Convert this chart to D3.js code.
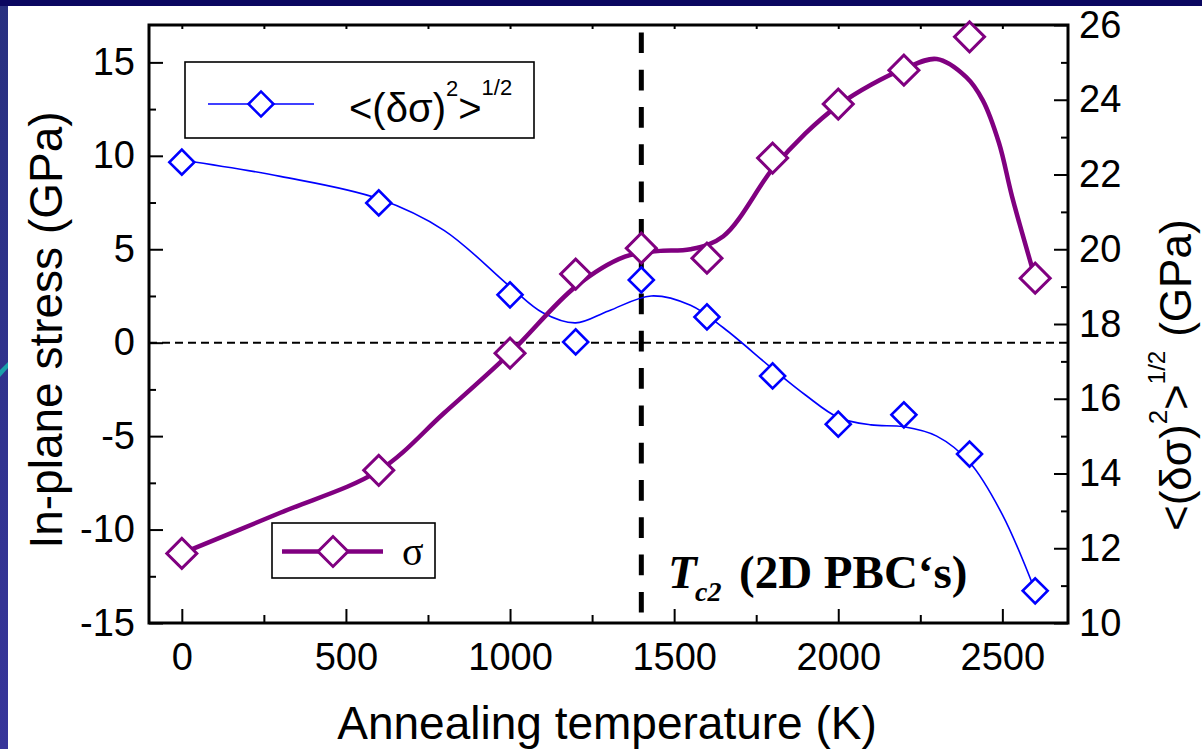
<!DOCTYPE html>
<html>
<head>
<meta charset="utf-8">
<script src="https://cdn.jsdelivr.net/npm/d3@7"></script>
<style>
  html, body { margin: 0; padding: 0; background: #fff; }
  svg { display: block; }
</style>
</head>
<body>
<svg id="chart" width="1202" height="749"></svg>
<script>
// ---------- data ----------
const temps = [0, 600, 1000, 1200, 1400, 1600, 1800, 2000, 2200, 2400, 2600];
const sigmaValues = [-11.28, -6.83, -0.56, 3.67, 5.06, 4.52, 9.88, 12.77, 14.58, 16.37, 3.45];
const rmsValues = [22.33, 21.24, 18.78, 17.52, 19.18, 18.19, 16.61, 15.32, 15.57, 14.52, 10.86];

// smoothed fit curves
const sigmaFitT = [0, 300, 600, 800, 1000, 1200, 1350, 1450, 1550, 1650, 1800, 1900, 2000, 2100, 2200, 2300, 2390, 2440, 2490, 2530, 2600];
const sigmaFitV = [-11.27, -9.1, -6.85, -3.75, -0.56, 3.0, 4.6, 4.9, 5.0, 5.7, 9.3, 11.2, 12.7, 13.8, 14.65, 15.18, 14.21, 12.98, 10.67, 7.79, 3.45];
const rmsFitT = [0, 300, 600, 800, 1000, 1100, 1200, 1300, 1430, 1550, 1650, 1800, 1900, 2000, 2100, 2200, 2300, 2400, 2500, 2600];
const rmsFitV = [22.39, 21.95, 21.35, 20.5, 19.0, 18.3, 18.03, 18.35, 18.75, 18.5, 17.9, 16.8, 16.1, 15.5, 15.3, 15.25, 15.0, 14.3, 12.9, 10.86];

const xMajor = [0, 500, 1000, 1500, 2000, 2500];
const xMinor = [250, 750, 1250, 1750, 2250];
const yLeftMajor = [-15, -10, -5, 0, 5, 10, 15];
const yLeftMinor = [-12.5, -7.5, -2.5, 2.5, 7.5, 12.5];
const yRightMajor = [10, 12, 14, 16, 18, 20, 22, 24, 26];
const yRightMinor = [11, 13, 15, 17, 19, 21, 23, 25];
const tcTemp = 1400;

// ---------- layout ----------
const svg = d3.select("#chart");
const L = 149, R = 1068, T = 25, B = 623;
const x = d3.scaleLinear().domain([-100, 2700]).range([L, R]);
const yL = d3.scaleLinear().domain([-15, 17]).range([B, T]);
const yR = d3.scaleLinear().domain([10, 26]).range([B, T]);

const SANS = "'Liberation Sans', Arial, sans-serif";
const SERIF = "'Liberation Serif', 'Times New Roman', serif";
const BLUE = "#0000ff", PURPLE = "#800080";

// slide background decorations
svg.append("rect").attr("width", 1202).attr("height", 749).attr("fill", "#fff");
const grad = svg.append("defs").append("linearGradient").attr("id", "lb")
  .attr("x1", 0).attr("y1", 0).attr("x2", 0).attr("y2", 1);
grad.append("stop").attr("offset", "0%").attr("stop-color", "#283080");
grad.append("stop").attr("offset", "100%").attr("stop-color", "#37359a");
svg.append("rect").attr("x", 0).attr("y", 0).attr("width", 8).attr("height", 749).attr("fill", "url(#lb)");
svg.append("polygon").attr("points", "0,370 8,362 8,368 0,377").attr("fill", "#1aa0aa");
svg.append("rect").attr("x", 0).attr("y", 0).attr("width", 1202).attr("height", 6).attr("fill", "#0b0760");

// ---------- axes ----------
function styleAxis(g) {
  g.select(".domain").remove();
  g.selectAll(".tick line").attr("stroke", "#000").attr("stroke-width", 2);
  g.selectAll("text").attr("font-family", SANS).attr("font-size", 38).attr("fill", "#000");
}
const fmt = d => String(d);

svg.append("g").attr("transform", `translate(0,${B})`)
  .call(d3.axisBottom(x).tickValues(xMajor).tickSize(-14).tickPadding(20).tickFormat(fmt)).call(styleAxis);
svg.append("g").attr("transform", `translate(0,${B})`)
  .call(d3.axisBottom(x).tickValues(xMinor).tickSize(-8).tickFormat("")).call(styleAxis);
svg.append("g").attr("transform", `translate(0,${T})`)
  .call(d3.axisTop(x).tickValues(xMajor.concat(xMinor)).tickSize(-4).tickFormat("")).call(styleAxis);

svg.append("g").attr("transform", `translate(${L},0)`)
  .call(d3.axisLeft(yL).tickValues(yLeftMajor).tickSize(-14).tickPadding(14).tickFormat(fmt)).call(styleAxis);
svg.append("g").attr("transform", `translate(${L},0)`)
  .call(d3.axisLeft(yL).tickValues(yLeftMinor).tickSize(-7).tickFormat("")).call(styleAxis);

svg.append("g").attr("transform", `translate(${R},0)`)
  .call(d3.axisRight(yR).tickValues(yRightMajor).tickSize(-14).tickPadding(11).tickFormat(fmt)).call(styleAxis);
svg.append("g").attr("transform", `translate(${R},0)`)
  .call(d3.axisRight(yR).tickValues(yRightMinor).tickSize(-7).tickFormat("")).call(styleAxis);

// frame
svg.append("rect").attr("x", L).attr("y", T).attr("width", R - L).attr("height", B - T)
  .attr("fill", "none").attr("stroke", "#000").attr("stroke-width", 3);

// reference lines
svg.append("line").attr("x1", L).attr("x2", R + 3).attr("y1", yL(0)).attr("y2", yL(0))
  .attr("stroke", "#000").attr("stroke-width", 2).attr("stroke-dasharray", "8,5");
svg.append("line").attr("x1", x(tcTemp)).attr("x2", x(tcTemp)).attr("y1", 32.4).attr("y2", B)
  .attr("stroke", "#000").attr("stroke-width", 5).attr("stroke-dasharray", "20.7,16.6");

// ---------- curves ----------
const lineR = d3.line().x(d => x(d[0])).y(d => yR(d[1])).curve(d3.curveCatmullRom.alpha(0.5));
const lineL = d3.line().x(d => x(d[0])).y(d => yL(d[1])).curve(d3.curveCatmullRom.alpha(0.5));

svg.append("path").datum(d3.zip(rmsFitT, rmsFitV)).attr("d", lineR)
  .attr("fill", "none").attr("stroke", BLUE).attr("stroke-width", 1.6);
svg.append("path").datum(d3.zip(sigmaFitT, sigmaFitV)).attr("d", lineL)
  .attr("fill", "none").attr("stroke", PURPLE).attr("stroke-width", 4.5);

// ---------- markers ----------
const diamondBlue = d3.symbol(d3.symbolSquare, 2 * 12.5 * 12.5);
const diamondPurple = d3.symbol(d3.symbolSquare, 2 * 15 * 15);

svg.append("g").selectAll("path").data(d3.zip(temps, rmsValues)).join("path")
  .attr("d", diamondBlue)
  .attr("transform", d => `translate(${x(d[0])},${yR(d[1])}) rotate(45)`)
  .attr("fill", "#fff").attr("stroke", BLUE).attr("stroke-width", 2.6);
svg.append("g").selectAll("path").data(d3.zip(temps, sigmaValues)).join("path")
  .attr("d", diamondPurple)
  .attr("transform", d => `translate(${x(d[0])},${yL(d[1])}) rotate(45)`)
  .attr("fill", "#fff").attr("stroke", PURPLE).attr("stroke-width", 3);

// ---------- legends ----------
svg.append("rect").attr("x", 185).attr("y", 62).attr("width", 349).attr("height", 76)
  .attr("fill", "#fff").attr("stroke", "#000").attr("stroke-width", 1.6);
svg.append("line").attr("x1", 208).attr("x2", 314).attr("y1", 104).attr("y2", 104)
  .attr("stroke", BLUE).attr("stroke-width", 1.6);
svg.append("path").attr("d", diamondBlue).attr("transform", "translate(261,104) rotate(45)")
  .attr("fill", "#fff").attr("stroke", BLUE).attr("stroke-width", 2.6);
const lt1 = svg.append("text").attr("x", 349).attr("y", 122)
  .attr("font-family", SANS).attr("font-size", 40).attr("fill", "#000");
lt1.append("tspan").text("<(δσ)");
lt1.append("tspan").attr("font-size", 22).attr("dy", -26).text("2");
lt1.append("tspan").attr("dy", 26).text(">");
lt1.append("tspan").attr("font-size", 22).attr("dy", -27).text("1/2");

svg.append("rect").attr("x", 272).attr("y", 523).attr("width", 163).attr("height", 55)
  .attr("fill", "#fff").attr("stroke", "#000").attr("stroke-width", 1.6);
svg.append("line").attr("x1", 282).attr("x2", 383).attr("y1", 551.5).attr("y2", 551.5)
  .attr("stroke", PURPLE).attr("stroke-width", 4.5);
svg.append("path").attr("d", diamondPurple).attr("transform", "translate(333,551.5) rotate(45)")
  .attr("fill", "#fff").attr("stroke", PURPLE).attr("stroke-width", 3);
svg.append("text").attr("x", 402).attr("y", 565)
  .attr("font-family", SERIF).attr("font-size", 40).attr("fill", "#000").text("σ");

// ---------- annotation ----------
const tc = svg.append("text").attr("font-family", SERIF).attr("font-weight", "bold").attr("fill", "#000");
tc.append("tspan").attr("x", 668).attr("y", 588).attr("font-size", 47).attr("font-style", "italic").text("T");
tc.append("tspan").attr("x", 695).attr("y", 601).attr("font-size", 28).attr("font-style", "italic").text("c2");
tc.append("tspan").attr("x", 739).attr("y", 588).attr("font-size", 47).text("(2D PBC‘s)");

// ---------- axis titles ----------
svg.append("text").attr("transform", "translate(607,739)").attr("text-anchor", "middle")
  .attr("font-family", SANS).attr("font-size", 46).attr("fill", "#000").text("Annealing temperature (K)");
svg.append("text").attr("transform", "translate(62,330) rotate(-90)").attr("text-anchor", "middle")
  .attr("font-family", SANS).attr("font-size", 46).attr("fill", "#000").text("In-plane stress (GPa)");
const rt = svg.append("text").attr("transform", "translate(1191,531) rotate(-90)")
  .attr("font-family", SANS).attr("font-size", 44).attr("fill", "#000");
rt.append("tspan").text("<(δσ)");
rt.append("tspan").attr("font-size", 26).attr("dy", -24).text("2");
rt.append("tspan").attr("dy", 24).text(">");
rt.append("tspan").attr("font-size", 24).attr("dy", -26).text("1/2");
rt.append("tspan").attr("dy", 26).attr("dx", 14).text("(GPa)");
</script>
</body>
</html>
